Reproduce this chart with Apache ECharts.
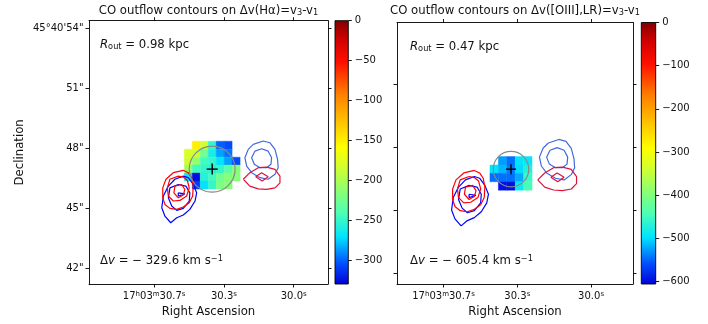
<!DOCTYPE html>
<html>
<head>
<meta charset="utf-8">
<script src="https://cdn.jsdelivr.net/npm/echarts@6/dist/echarts.min.js"></script>
<style>
html,body{margin:0;padding:0;background:#fff;}
#chart{width:708px;height:324px;}
</style>
</head>
<body>
<div id="chart"></div>
<script>
// Coordinates: x = arcsec west of RA 17h03m30.3s, y = Dec arcsec past 45°40'
const raTickValues = [-3.5, 0, 3.5];
const raTickLabels = ['17{sup|h}03{sup|m}30.7{sup|s}', '30.3{sup|s}', '30.0{sup|s}'];
const decTickValues = [42, 45, 48, 51, 54];
const decTickLabels = ['42"', '45"', '48"', '51"', '45°40\'54"'];

const halphaCbarTicks = [0, -50, -100, -150, -200, -250, -300];
const oiiiCbarTicks = [0, -100, -200, -300, -400, -500, -600];

const halphaRange = [-329.6, 0];
const oiiiRange = [-605.4, 0];

// spaxel size in arcsec
const cellSize = 0.4;

// Δv(Hα) map (km/s), rows top to bottom
const halphaColsX = [-1.79, -1.39, -0.99, -0.59, -0.19, 0.21, 0.61];
const halphaRowsY = [48.16, 47.76, 47.36, 46.96, 46.56, 46.16];
const halphaDv = [
  [null, -150, -185, -250, -300, -305, null],
  [-180, -185, -225, -260, -285, -295, null],
  [-185, -210, -245, -250, -270, -285, -305],
  [-205, -245, -250, -255, -250, -235, -215],
  [-265, -325, -255, -245, -225, -215, -215],
  [null, -310, -270, -250, -220, -215, null]
];

// Δv([OIII],LR) map (km/s)
const oiiiColsX = [-1.10, -0.70, -0.30, 0.10, 0.50];
const oiiiRowsY = [47.36, 46.96, 46.56, 46.16];
const oiiiDv = [
  [null, -525, -545, -495, -490],
  [-495, -515, -540, -500, -470],
  [-545, -545, -545, -520, -455],
  [null, -595, -595, -490, -445]
];

// aperture centre and radius (arcsec)
const halphaAperture = [-0.59, 46.96, 1.15];
const oiiiAperture = [-0.30, 46.96, 0.84];

// CO outflow contours (arcsec)
const coBlueEastOuter = [[-2.04,46.61],[-2.46,46.45],[-2.79,46.11],[-3.04,45.61],[-3.12,45.02],[-2.96,44.60],[-2.67,44.27],[-2.37,44.52],[-2.04,44.66],[-1.71,44.94],[-1.45,45.36],[-1.37,45.77],[-1.54,46.19],[-1.79,46.53]];
const coBlueEastMid = [[-2.29,46.19],[-2.71,46.02],[-2.79,45.52],[-2.62,45.11],[-2.37,44.89],[-2.04,44.99],[-1.74,45.36],[-1.71,45.77],[-1.91,46.11]];
const coBlueEastInner = [[-2.29,45.77],[-2.29,45.61],[-1.96,45.72]];
const coRedEastOuter = [[-2.04,46.90],[-2.54,46.78],[-2.91,46.45],[-3.07,46.02],[-3.07,45.52],[-2.96,45.19],[-2.71,44.99],[-2.37,44.94],[-2.04,45.06],[-1.74,45.27],[-1.57,45.61],[-1.54,46.11],[-1.62,46.53],[-1.79,46.78]];
const coRedEastMid = [[-2.29,46.61],[-2.71,46.45],[-2.84,46.02],[-2.79,45.61],[-2.54,45.36],[-2.21,45.39],[-1.87,45.61],[-1.74,46.02],[-1.84,46.40],[-2.04,46.56]];
const coRedEastInner = [[-2.46,46.11],[-2.51,45.77],[-2.29,45.52],[-2.04,45.66],[-1.96,45.94],[-2.12,46.19]];
const coBlueWestOuter = [[1.47,48.20],[1.97,48.37],[2.31,48.28],[2.56,47.95],[2.69,47.45],[2.72,47.03],[2.56,46.70],[2.22,46.45],[1.81,46.53],[1.39,46.78],[1.14,47.11],[1.05,47.53],[1.22,47.95]];
const coBlueWestInner = [[1.55,47.86],[1.89,47.98],[2.22,47.86],[2.39,47.53],[2.36,47.20],[2.14,47.03],[1.81,47.03],[1.52,47.20],[1.39,47.53]];
const coRedWestOuter = [[0.97,46.45],[1.30,46.78],[1.72,47.03],[2.14,47.06],[2.56,46.95],[2.81,46.61],[2.81,46.27],[2.56,46.02],[2.14,45.94],[1.72,45.97],[1.30,46.11]];
const coRedWestInner = [[1.59,46.58],[1.89,46.78],[2.22,46.58],[1.92,46.36]];

// colour scale stops, [position from bottom (0) to top (1), colour]
const cmapStops = [
  [0.00, '#0000d8'], [0.08, '#0050ff'], [0.18, '#00e4ff'], [0.27, '#4cffb4'],
  [0.36, '#90ff70'], [0.44, '#d0ff30'], [0.52, '#ffff00'], [0.62, '#ffc000'],
  [0.72, '#ff8000'], [0.84, '#ff1000'], [0.93, '#d00000'], [1.00, '#800000']
];

// ---- layout ----
const FONT = 'DejaVu Sans';
const panels = [
  {grid: {left: 89, top: 20.7, width: 239, height: 263.3}, cbar: {left: 335, top: 20.7, width: 13.3, height: 263.3},
   xr: [-6.77, 5.22], yr: [41.2, 54.4], showDec: true},
  {grid: {left: 397, top: 22.5, width: 236, height: 261.5}, cbar: {left: 641.3, top: 22.5, width: 14.4, height: 261.5},
   xr: [-5.71, 5.49], yr: [41.51, 53.92], showDec: false}
];

// evenly resampled colour list for the visual map (piecewise-linear stops)
function hexToRgb(h) { return [1, 3, 5].map(i => parseInt(h.substr(i, 2), 16)); }
function cmapAt(t) {
  for (let k = 1; k < cmapStops.length; k++) {
    if (t <= cmapStops[k][0]) {
      const [t0, c0] = cmapStops[k - 1], [t1, c1] = cmapStops[k];
      const f = (t - t0) / (t1 - t0), a = hexToRgb(c0), b = hexToRgb(c1);
      return 'rgb(' + a.map((v, j) => Math.round(v + (b[j] - v) * f)).join(',') + ')';
    }
  }
  return cmapStops[cmapStops.length - 1][1];
}
const cmapList = [];
for (let k = 0; k <= 100; k++) cmapList.push(cmapAt(k / 100));

const frameLine = {show: true, onZero: false, lineStyle: {color: '#000', width: 0.9}};
const tickStyle = (vals) => ({show: true, inside: false, length: 3.5, customValues: vals, lineStyle: {color: '#000', width: 0.9}});
const supRich = {
  sup: {fontFamily: FONT, fontSize: 7, lineHeight: 4, verticalAlign: 'top', color: '#111'}
};

function cells(colsX, rowsY, grid) {
  const out = [];
  grid.forEach((row, r) => row.forEach((v, c) => { if (v !== null) out.push([colsX[c], rowsY[r], v]); }));
  return out;
}

const grids = [], xAxes = [], yAxes = [], series = [], visualMaps = [];

panels.forEach((p, i) => {
  const gi = grids.length;
  grids.push(p.grid, p.cbar);
  const decVals = decTickValues.filter(v => v >= p.yr[0] && v <= p.yr[1]);
  xAxes.push({
    gridIndex: gi, type: 'value', min: p.xr[0], max: p.xr[1], position: 'bottom',
    axisLine: frameLine, axisTick: tickStyle(raTickValues), splitLine: {show: false},
    axisLabel: {customValues: raTickValues, margin: 7, fontFamily: FONT, fontSize: 10, color: '#111',
      formatter: v => raTickLabels[raTickValues.indexOf(v)], rich: supRich},
    name: 'Right Ascension', nameLocation: 'middle', nameGap: 21,
    nameTextStyle: {fontFamily: FONT, fontSize: 11.7, color: '#111'}
  });
  xAxes.push({
    gridIndex: gi, type: 'value', min: p.xr[0], max: p.xr[1], position: 'top',
    axisLine: frameLine, axisTick: tickStyle(raTickValues), axisLabel: {show: false}, splitLine: {show: false}
  });
  yAxes.push({
    gridIndex: gi, type: 'value', min: p.yr[0], max: p.yr[1], position: 'left',
    axisLine: frameLine, axisTick: tickStyle(decVals), splitLine: {show: false},
    axisLabel: {show: p.showDec, customValues: decVals, margin: 5.5, fontFamily: FONT, fontSize: 10, color: '#111',
      formatter: v => decTickLabels[decTickValues.indexOf(v)]},
    name: p.showDec ? 'Declination' : '', nameLocation: 'middle', nameGap: 63, nameRotate: 90,
    nameTextStyle: {fontFamily: FONT, fontSize: 11.7, color: '#111'}
  });
  yAxes.push({
    gridIndex: gi, type: 'value', min: p.yr[0], max: p.yr[1], position: 'right',
    axisLine: frameLine, axisTick: tickStyle(decVals), axisLabel: {show: false}, splitLine: {show: false}
  });
  const range = i === 0 ? halphaRange : oiiiRange;
  const cbTicks = i === 0 ? halphaCbarTicks : oiiiCbarTicks;
  xAxes.push({gridIndex: gi + 1, type: 'value', min: 0, max: 1, show: false});
  yAxes.push({
    gridIndex: gi + 1, type: 'value', min: range[0], max: range[1], position: 'right',
    axisLine: {show: false, onZero: false}, axisTick: tickStyle(cbTicks), splitLine: {show: false},
    axisLabel: {customValues: cbTicks, margin: 6.5, fontFamily: FONT, fontSize: 10, color: '#111',
      formatter: v => String(v).replace('-', '\u2212')}
  });
});

// per panel there are 3 x axes and 3 y axes
const ax = (panel, k) => panel * 3 + k;

function heatSeries(panel, data) {
  return {
    type: 'custom', xAxisIndex: ax(panel, 0), yAxisIndex: ax(panel, 0), clip: true, z: 1,
    data: data, encode: {x: 0, y: 1},
    renderItem: (params, api) => {
      const x = api.value(0), y = api.value(1);
      const a = api.coord([x - cellSize / 2, y + cellSize / 2]);
      const b = api.coord([x + cellSize / 2, y - cellSize / 2]);
      const col = api.visual('color');
      return {type: 'rect', shape: {x: a[0], y: a[1], width: b[0] - a[0], height: b[1] - a[1]},
        style: {fill: col, stroke: col, lineWidth: 0.4}};
    }
  };
}

function contourSeries(panel, pts, color) {
  return {
    type: 'line', xAxisIndex: ax(panel, 0), yAxisIndex: ax(panel, 0), z: 3,
    data: pts.concat([pts[0]]), showSymbol: false, symbol: 'none', silent: true,
    lineStyle: {color: color, width: 1.2}
  };
}

function apertureSeries(panel, ap, arm) {
  return {
    type: 'custom', xAxisIndex: ax(panel, 0), yAxisIndex: ax(panel, 0), z: 5,
    data: [ap],
    renderItem: (params, api) => {
      const c = api.coord([api.value(0), api.value(1)]);
      const e = api.coord([api.value(0) + api.value(2), api.value(1)]);
      const r = Math.abs(e[0] - c[0]);
      return {type: 'group', children: [
        {type: 'circle', shape: {cx: c[0], cy: c[1], r: r}, style: {fill: 'none', stroke: '#888', lineWidth: 1.2}},
        {type: 'line', shape: {x1: c[0] - arm, y1: c[1], x2: c[0] + arm, y2: c[1]}, style: {stroke: '#000', lineWidth: 1.4}},
        {type: 'line', shape: {x1: c[0], y1: c[1] - arm, x2: c[0], y2: c[1] + arm}, style: {stroke: '#000', lineWidth: 1.4}}
      ]};
    }
  };
}

function colorbarSeries(panel, range) {
  return {
    type: 'custom', xAxisIndex: ax(panel, 2), yAxisIndex: ax(panel, 2), z: 2,
    data: [[0, range[0], range[1]]],
    renderItem: (params, api) => {
      const a = api.coord([0, api.value(2)]);
      const b = api.coord([1, api.value(1)]);
      const stops = cmapStops.map(([t, c]) => ({offset: 1 - t, color: c})).reverse();
      return {type: 'rect', shape: {x: a[0], y: a[1], width: b[0] - a[0], height: b[1] - a[1]},
        style: {fill: new echarts.graphic.LinearGradient(0, 0, 0, 1, stops), stroke: '#000', lineWidth: 0.9}};
    }
  };
}

[0, 1].forEach(panel => {
  const data = panel === 0 ? cells(halphaColsX, halphaRowsY, halphaDv) : cells(oiiiColsX, oiiiRowsY, oiiiDv);
  const range = panel === 0 ? halphaRange : oiiiRange;
  visualMaps.push({type: 'continuous', show: false, seriesIndex: series.length, dimension: 2,
    min: range[0], max: range[1], inRange: {color: cmapList}});
  series.push(heatSeries(panel, data));
  series.push(contourSeries(panel, coBlueEastOuter, '#0000ff'));
  series.push(contourSeries(panel, coBlueEastMid, '#0000ff'));
  series.push(contourSeries(panel, coBlueEastInner, '#0000ff'));
  series.push(contourSeries(panel, coRedEastOuter, '#ff0000'));
  series.push(contourSeries(panel, coRedEastMid, '#ff0000'));
  series.push(contourSeries(panel, coRedEastInner, '#ff0000'));
  series.push(contourSeries(panel, coBlueWestOuter, '#4169e1'));
  series.push(contourSeries(panel, coBlueWestInner, '#4169e1'));
  series.push(contourSeries(panel, coRedWestOuter, '#dc143c'));
  series.push(contourSeries(panel, coRedWestInner, '#dc143c'));
  series.push(apertureSeries(panel, panel === 0 ? halphaAperture : oiiiAperture, panel === 0 ? 5.5 : 5));
  series.push(colorbarSeries(panel, range));
});

const txt = {fontFamily: FONT, fontSize: 11.7, color: '#111', fontWeight: 'normal'};
const mathRich = {
  sub: {fontFamily: FONT, fontSize: 8.2, lineHeight: 4, verticalAlign: 'bottom', color: '#111'},
  it: {fontFamily: FONT, fontSize: 11.7, fontStyle: 'italic', color: '#111'},
  sup: {fontFamily: FONT, fontSize: 8.2, lineHeight: 4, verticalAlign: 'top', color: '#111'}
};
const titles = [
  {text: 'CO outflow contours on Δv(Hα)=v{sub|3}-v{sub|1}', left: 208.5, top: 5},
  {text: 'CO outflow contours on Δv([OIII],LR)=v{sub|3}-v{sub|1}', left: 515, top: 5},
  {text: '{it|R}{sub|out} = 0.98 kpc', left: 100, top: 39, textAlign: 'left'},
  {text: '{it|R}{sub|out} = 0.47 kpc', left: 410, top: 41, textAlign: 'left'},
  {text: 'Δ{it|v} = − 329.6 km s{sup|−1}', left: 100, top: 255, textAlign: 'left'},
  {text: 'Δ{it|v} = − 605.4 km s{sup|−1}', left: 410, top: 255, textAlign: 'left'}
].map(t => Object.assign({padding: 0, textAlign: 'center', textStyle: Object.assign({rich: mathRich}, txt)}, t));

const chart = echarts.init(document.getElementById('chart'), null, {renderer: 'canvas'});
chart.setOption({
  animation: false,
  backgroundColor: '#fff',
  textStyle: {fontFamily: FONT},
  title: titles,
  grid: grids,
  xAxis: xAxes,
  yAxis: yAxes,
  visualMap: visualMaps,
  series: series
});
</script>
</body>
</html>
